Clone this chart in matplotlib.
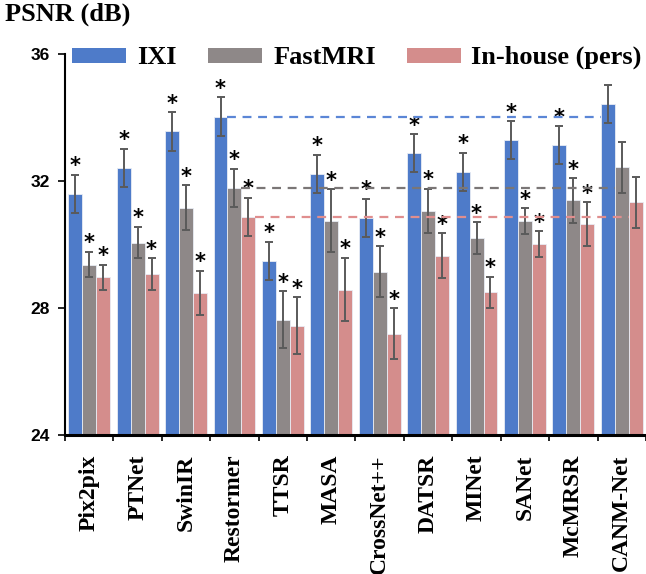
import matplotlib
matplotlib.use("Agg")
import matplotlib.pyplot as plt
import numpy as np
from matplotlib.patches import Rectangle

methods = ["Pix2pix", "PTNet", "SwinIR", "Restormer", "TTSR", "MASA",
           "CrossNet++", "DATSR", "MINet", "SANet", "McMRSR", "CANM-Net"]
series = ["IXI", "FastMRI", "In-house (pers)"]

ixi = [31.60, 32.42, 33.56, 34.03, 29.49, 32.23, 30.84, 32.88, 32.29, 33.29, 33.13, 34.42]
ixi_err = [0.6, 0.6, 0.6, 0.6, 0.6, 0.6, 0.6, 0.6, 0.6, 0.6, 0.6, 0.6]
fast = [29.37, 30.06, 31.16, 31.79, 27.63, 30.75, 29.14, 31.06, 30.20, 30.74, 31.39, 32.43]
fast_err = [0.4, 0.5, 0.7, 0.6, 0.9, 1.0, 0.8, 0.7, 0.5, 0.4, 0.7, 0.8]
inh = [28.97, 29.07, 28.48, 30.87, 27.44, 28.58, 27.19, 29.65, 28.49, 30.02, 30.64, 31.33]
inh_err = [0.4, 0.5, 0.7, 0.6, 0.9, 1.0, 0.8, 0.7, 0.5, 0.4, 0.7, 0.8]
significant = [True] * 11 + [False]

yticks = [24, 28, 32, 36]
colors = ["#4E7BC9", "#8E8888", "#D48D8C"]
dash_colors = ["#5B86D6", "#7A7676", "#E08E8E"]

W, H = 646, 574
fig = plt.figure(figsize=(W / 100, H / 100), dpi=100)
ax = fig.add_axes([65 / W, 1 - 435 / H, 1 - 65 / W, (435 - 54) / H])

x = np.arange(len(methods))
w = 0.2875
vals = [ixi, fast, inh]
errs = [ixi_err, fast_err, inh_err]
for k in range(3):
    pos = x + (k - 1) * w
    ax.bar(pos, vals[k], w, bottom=0, color=colors[k], edgecolor="#E8ECF4",
           linewidth=0.6, zorder=2)
    ax.errorbar(pos, vals[k], yerr=errs[k], fmt="none", ecolor="#5A5A5A",
                elinewidth=1.4, capsize=3.2, capthick=1.4, zorder=3)
    for i in range(len(methods)):
        if significant[i]:
            ax.text(pos[i], vals[k][i] + errs[k][i] - 0.05, "*", ha="center",
                    va="bottom", fontsize=15, fontweight="bold",
                    family="DejaVu Sans", color="black", zorder=4)

# reference dashed lines from Restormer (index 3) to CANM-Net
ref = 3
last = len(methods) - 1
for k in range(3):
    x0 = ref + (k - 1) * w + w / 2
    x1 = last + (k - 1) * w - w / 2
    ax.plot([x0, x1], [vals[k][ref], vals[k][ref]], ls=(0, (4, 3)),
            color=dash_colors[k], lw=1.6, zorder=5)

ax.set_ylim(24, 36)
ax.set_xlim(-0.45, 11.48)
ax.set_yticks(yticks)
ax.set_yticklabels([str(t) for t in yticks], fontsize=12.5, fontweight="bold",
                   family="Liberation Sans")
ax.tick_params(axis="y", direction="out", length=5, width=1.2, pad=6)
ax.set_xticks(x)
ax.set_xticklabels(methods, rotation=90, fontsize=17, fontweight="bold",
                   family="Liberation Serif")
ax.tick_params(axis="x", which="major", length=0, pad=14)
ax.set_xticks(np.arange(-0.5, len(methods), 1.0), minor=True)
ax.tick_params(axis="x", which="minor", direction="out", length=4, width=1.2)
for s in ["top", "right"]:
    ax.spines[s].set_visible(False)
ax.spines["left"].set_linewidth(1.5)
ax.spines["bottom"].set_linewidth(2.2)
ax.spines["bottom"].set_zorder(6)

fig.text(5 / W, 1 - 3 / H, "PSNR (dB)", ha="left", va="top", fontsize=19,
         fontweight="bold", family="Liberation Serif")

# legend drawn manually (patch x-range, text x)
patch_x = [72, 208, 407]
text_x = [137, 274, 471]
for k in range(3):
    fig.patches.append(Rectangle((patch_x[k] / W, 1 - 63 / H), 54 / W, 15 / H,
                                 transform=fig.transFigure, facecolor=colors[k],
                                 edgecolor="none"))
    fig.text(text_x[k] / W, 1 - 55 / H, series[k], ha="left", va="center_baseline",
             fontsize=19, fontweight="bold", family="Liberation Serif")

fig.savefig("out.png", dpi=100)
